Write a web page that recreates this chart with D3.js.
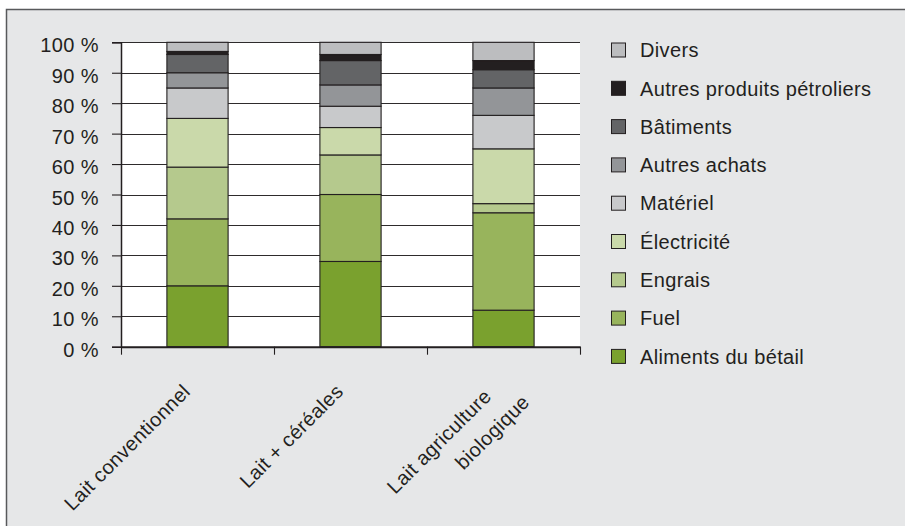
<!DOCTYPE html>
<html lang="fr">
<head>
<meta charset="utf-8">
<script src="https://cdn.jsdelivr.net/npm/d3@7"></script>
<style>
  html, body { margin: 0; padding: 0; background: #ffffff; }
  svg { display: block; }
  text { font-family: "Liberation Sans", Arial, Helvetica, sans-serif; fill: #231f20; }
</style>
</head>
<body>
<svg id="chart" width="905" height="526"></svg>
<script>
// Categories (farm types) and their label lines
const categories = ["Lait conventionnel", "Lait + céréales", "Lait agriculture biologique"];
const categoryLabelLines = [["Lait conventionnel"], ["Lait + céréales"], ["Lait agriculture", "biologique"]];

// Share of each input in the total (%), stacked bottom to top
const seriesNames = [
  "Aliments du bétail", "Fuel", "Engrais", "Électricité", "Matériel",
  "Autres achats", "Bâtiments", "Autres produits pétroliers", "Divers"
];
const aliments    = [20, 28, 12];
const fuel        = [22, 22, 32];
const engrais     = [17, 13, 3];
const electricite = [16, 9, 18];
const materiel    = [10, 7, 11];
const autresAchats = [5, 7, 9];
const batiments   = [6, 8, 6];
const petroliers  = [1, 2, 3];
const divers      = [3, 4, 6];

const seriesColors = [
  "#7aa12e", "#98b45c", "#b5c98d", "#cad9aa", "#c8c9cb",
  "#939598", "#636466", "#231f20", "#bcbdbf"
];

const yTicks = [0, 10, 20, 30, 40, 50, 60, 70, 80, 90, 100];

// Build rows for d3.stack
const seriesValues = [aliments, fuel, engrais, electricite, materiel, autresAchats, batiments, petroliers, divers];
const rows = categories.map((c, i) => {
  const r = { category: c };
  seriesNames.forEach((s, k) => { r[s] = seriesValues[k][i]; });
  return r;
});

const svg = d3.select("#chart");
const W = 905, H = 526;

// Panel frame
svg.append("rect")
  .attr("x", 6.5).attr("y", 9.5)
  .attr("width", W + 10).attr("height", H + 10)
  .attr("fill", "#e6e7e8")
  .attr("stroke", "#58595b").attr("stroke-width", 1.5);

const plot = { left: 121, right: 580, top: 42.3, bottom: 346.7 };

const x = d3.scaleBand()
  .domain(categories)
  .range([plot.left, plot.right])
  .paddingInner(0.6)
  .paddingOuter(0.3);

const xEdges = d3.scaleLinear().domain([0, categories.length]).range([plot.left, plot.right]);

const y = d3.scaleLinear().domain([0, 100]).range([plot.bottom, plot.top]);

// Plot background
svg.append("rect")
  .attr("x", plot.left).attr("y", plot.top)
  .attr("width", plot.right - plot.left).attr("height", plot.bottom - plot.top)
  .attr("fill", "#ffffff");

// Horizontal grid lines
svg.append("g")
  .selectAll("line")
  .data(yTicks.filter(d => d > 0))
  .join("line")
  .attr("x1", plot.left).attr("x2", plot.right)
  .attr("y1", d => Math.round(y(d)) + 0.5).attr("y2", d => Math.round(y(d)) + 0.5)
  .attr("stroke", "#2e2b2c").attr("stroke-width", 1.1);

// Stacked bars
const stack = d3.stack().keys(seriesNames);
const stacked = stack(rows);

svg.append("g")
  .selectAll("g")
  .data(stacked)
  .join("g")
  .attr("fill", (d, i) => seriesColors[i])
  .selectAll("rect")
  .data(d => d)
  .join("rect")
  .attr("x", d => x(d.data.category))
  .attr("y", d => y(d[1]))
  .attr("width", x.bandwidth())
  .attr("height", d => y(d[0]) - y(d[1]))
  .attr("stroke", "#231f20")
  .attr("stroke-width", 1.1);

// Y axis
const yAxis = d3.axisLeft(y)
  .tickValues(yTicks)
  .tickFormat(d => d + "\u00a0%")
  .tickSize(9)
  .tickPadding(13);

const gy = svg.append("g")
  .attr("transform", `translate(${plot.left},0)`)
  .call(yAxis);
gy.select(".domain").attr("stroke", "#231f20").attr("stroke-width", 1.5);
gy.selectAll(".tick line").attr("stroke", "#231f20").attr("stroke-width", 1.1);
gy.selectAll(".tick text")
  .attr("font-size", 20)
  .attr("letter-spacing", 0.4)
  .attr("dy", "0.48em")
  .style("fill", "#231f20");

// X axis: ticks at category boundaries
const xAxis = d3.axisBottom(xEdges)
  .tickValues(d3.range(categories.length + 1))
  .tickFormat("")
  .tickSize(8)
  .tickSizeOuter(0);

const gx = svg.append("g")
  .attr("transform", `translate(0,${plot.bottom})`)
  .call(xAxis);
gx.select(".domain").attr("stroke", "#231f20").attr("stroke-width", 2);
gx.selectAll(".tick line").attr("stroke", "#231f20").attr("stroke-width", 1.1);

// Rotated category labels
const labelGroups = svg.append("g")
  .selectAll("text")
  .data(categories)
  .join("text")
  .attr("transform", d => `translate(${x(d) + x.bandwidth() / 2 - 6},${plot.bottom + 46}) rotate(-45)`)
  .attr("text-anchor", "end")
  .attr("font-size", 20)
  .attr("letter-spacing", 0.4);

labelGroups.each(function (d, i) {
  const lines = categoryLabelLines[i];
  d3.select(this).selectAll("tspan")
    .data(lines)
    .join("tspan")
    .attr("x", (l, j) => j === 0 ? (lines.length > 1 ? -7 : 0) : 16)
    .attr("y", (l, j) => j * 31)
    .text(l => l);
});

// Legend (top entry = top of stack)
const legendItems = seriesNames.map((s, i) => ({ name: s, color: seriesColors[i] })).reverse();
const legend = svg.append("g")
  .selectAll("g")
  .data(legendItems)
  .join("g")
  .attr("transform", (d, i) => `translate(611.5,${50 + i * 38.3})`);

legend.append("rect")
  .attr("x", 0).attr("y", -7)
  .attr("width", 14).attr("height", 14)
  .attr("fill", d => d.color)
  .attr("stroke", "#231f20").attr("stroke-width", 1);

legend.append("text")
  .attr("x", 28.5)
  .attr("y", 0)
  .attr("dy", "0.36em")
  .attr("font-size", 20)
  .attr("letter-spacing", 0.35)
  .text(d => d.name);
</script>
</body>
</html>
